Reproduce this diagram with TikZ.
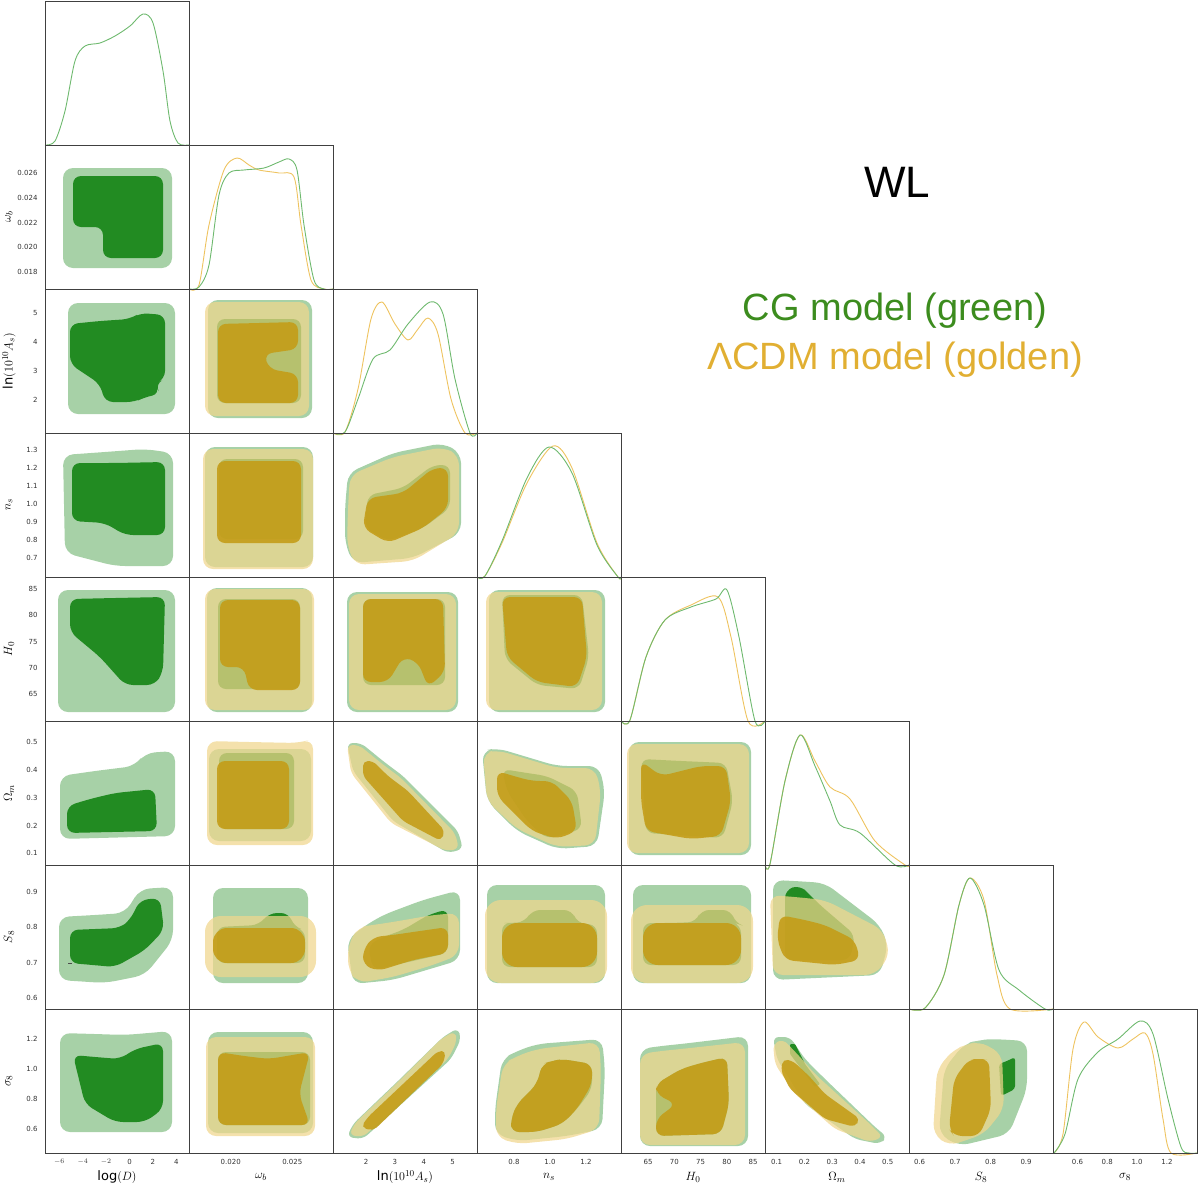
\documentclass[tikz,border=0pt]{standalone}
\usepackage{fontspec}
\setmainfont{DejaVu Sans}
\newfontfamily\titlefont{Liberation Sans}
\definecolor{cggreen}{RGB}{34,139,34}
\definecolor{cgline}{RGB}{110,185,110}
\definecolor{lcgold}{RGB}{240,214,140}
\definecolor{lcdark}{RGB}{196,156,22}
\definecolor{lcline}{RGB}{238,195,95}
\definecolor{cgtext}{RGB}{60,140,30}
\definecolor{lctext}{RGB}{225,175,50}
\tikzset{
	cell/.style 2 args={shift={({45+144*#1},{1+144*#2})}},
	cgout/.style={fill=cggreen,fill opacity=.4,rounded corners=10},
	cgin/.style={fill=cggreen,rounded corners=8},
	lcout/.style={fill=lcgold,fill opacity=.72,rounded corners=10},
	lcin/.style={fill=lcdark,fill opacity=.88,rounded corners=8},
	pdfcg/.style={draw=cgline,line width=0.9pt},
	pdflc/.style={draw=lcline,line width=0.9pt},
	frame/.style={draw=black!75,line width=0.8pt},
	tick/.style={draw=black!70,line width=0.6pt},
	ticklab/.style={font=\fontsize{7}{8}\selectfont,text=black!80},
	axlab/.style={font=\fontsize{13}{15}\selectfont}}
\def\txD{14.3,37.7,61.1,84.5,107.9,131.3}
\def\txW{41.7,72.5,103.3}
\def\txA{33,61.9,90.8,119.7}
\def\txN{37,73,109}
\def\txH{27,53.25,79.5,105.75,132}
\def\txO{11.6,39.4,67.2,95,122.8}
\def\txS{10.6,46.1,81.6,117.1}
\def\txG{24.5,54.3,84.1,113.9}
\def\tyW{17,41.7,66.3,91,115.6}
\def\tyN{19,37,55,73,91,109,127}

\begin{document}
\begin{tikzpicture}[x=1pt,y=-1pt]
	\useasboundingbox (0,0) rectangle (1200,1186);

	% diagonal: 1D posteriors
	\begin{scope}[cell={0}{0}]
		\draw[pdfcg] plot[smooth,tension=.5] coordinates {(0,144)(10,140)(20,110)(30,60)(40,45)(55,42)(70,35)(85,25)(98,13)(108,22)(118,70)(125,120)(133,142)(144,144)};
	\end{scope}
	\begin{scope}[cell={1}{1}]
		\draw[pdflc] plot[smooth,tension=.5] coordinates {(0,144)(10,140)(20,80)(35,25)(48,13)(60,20)(70,25)(90,28)(105,32)(112,80)(122,135)(135,144)(144,144)};
		\draw[pdfcg] plot[smooth,tension=.5] coordinates {(0,144)(10,142)(20,120)(30,50)(40,28)(55,25)(75,23)(90,17)(100,14)(108,25)(115,80)(125,135)(135,144)(144,144)};
	\end{scope}
	\begin{scope}[cell={2}{2}]
		\draw[pdflc] plot[smooth,tension=.5] coordinates {(0,144)(12,143)(25,100)(38,30)(49,13)(62,35)(75,51)(85,40)(95,29)(105,45)(118,110)(132,144)(144,144)};
		\draw[pdfcg] plot[smooth,tension=.5] coordinates {(0,144)(12,143)(25,110)(40,70)(57,61)(75,35)(97,13)(110,25)(122,90)(137,144)(144,144)};
	\end{scope}
	\begin{scope}[cell={3}{3}]
		\draw[pdflc] plot[smooth,tension=.5] coordinates {(0,144)(8,143)(25,110)(50,50)(76,13)(95,35)(120,110)(141,144)(144,144)};
		\draw[pdfcg] plot[smooth,tension=.5] coordinates {(0,144)(8,143)(25,108)(50,45)(72,14)(95,40)(120,112)(141,144)(144,144)};
	\end{scope}
	\begin{scope}[cell={4}{4}]
		\draw[pdflc] plot[smooth,tension=.5] coordinates {(0,144)(9,143)(25,80)(44,43)(70,28)(97,20)(110,60)(127,144)(144,144)};
		\draw[pdfcg] plot[smooth,tension=.5] coordinates {(0,144)(9,143)(25,80)(44,43)(70,30)(95,22)(106,13)(118,60)(134,144)(144,144)};
	\end{scope}
	\begin{scope}[cell={5}{5}]
		\draw[pdflc] plot[smooth,tension=.5] coordinates {(0,144)(5,143)(20,60)(35,14)(50,40)(65,66)(85,78)(110,120)(140,144)(144,144)};
		\draw[pdfcg] plot[smooth,tension=.5] coordinates {(0,144)(5,143)(20,60)(35,14)(50,45)(65,80)(75,104)(95,112)(130,144)(144,144)};
	\end{scope}
	\begin{scope}[cell={6}{6}]
		\draw[pdflc] plot[smooth,tension=.5] coordinates {(0,144)(16,143)(35,110)(50,40)(61,13)(75,35)(88,110)(101,144)(144,144)};
		\draw[pdfcg] plot[smooth,tension=.5] coordinates {(0,144)(16,143)(35,110)(50,40)(61,13)(75,40)(90,105)(110,125)(136,144)(144,144)};
	\end{scope}
	\begin{scope}[cell={7}{7}]
		\draw[pdflc] plot[smooth,tension=.5] coordinates {(1,144)(10,125)(20,40)(31,13)(45,28)(65,39)(80,30)(92,24)(100,45)(110,110)(118,144)(144,144)};
		\draw[pdfcg] plot[smooth,tension=.5] coordinates {(1,144)(12,125)(25,70)(45,43)(65,30)(87,12)(100,25)(115,90)(128,138)(136,144)(144,144)};
	\end{scope}

	% column log(D)
	\begin{scope}[cell={0}{1}]
		\fill[cgout] (18,23) rectangle (127,123);
		\fill[cgin] (70,31) -- (118,31) -- (118,113) -- (58,113) -- (58,82) -- (28,82) -- (28,31) -- cycle;
	\end{scope}
	\begin{scope}[cell={0}{2}]
		\fill[cgout] (23,14) rectangle (130,125);
		\fill[cgin] (55,32) -- (85,30) -- (95,24) -- (120,26) -- (120,90) -- (110,95) -- (115,105) -- (100,108) -- (90,113) -- (60,113) -- (55,95) -- (25,75) -- (25,35) -- cycle;
	\end{scope}
	\begin{scope}[cell={0}{3}]
		\fill[cgout] (60,19) -- (100,16) -- (128,20) -- (128,133) -- (70,133) -- (20,120) -- (18,22) -- cycle;
		\fill[cgin] (70,30) -- (120,29) -- (120,102) -- (80,102) -- (60,90) -- (27,88) -- (27,30) -- cycle;
	\end{scope}
	\begin{scope}[cell={0}{4}]
		\fill[cgout] (13,13) rectangle (130,135);
		\fill[cgin] (70,21) -- (120,20) -- (118,95) -- (110,108) -- (80,108) -- (55,80) -- (25,55) -- (25,22) -- cycle;
	\end{scope}
	\begin{scope}[cell={0}{5}]
		\fill[cgout] (50,50) -- (90,45) -- (100,32) -- (130,30) -- (130,115) -- (15,118) -- (15,55) -- cycle;
		\fill[cgin] (45,78) -- (70,72) -- (110,68) -- (112,110) -- (22,112) -- (22,85) -- cycle;
	\end{scope}
	\begin{scope}[cell={0}{6}]
		\fill[cgout] (50,50) -- (80,48) -- (95,24) -- (128,22) -- (128,75) -- (100,110) -- (60,118) -- (14,115) -- (14,52) -- cycle;
		\fill[cgin] (50,64) -- (75,63) -- (85,55) -- (95,35) -- (115,33) -- (119,65) -- (100,85) -- (70,102) -- (25,98) -- (25,65) -- cycle;
	\end{scope}
	\begin{scope}[cell={0}{7}]
		\fill[cgout] (50,25) -- (80,26) -- (127,22) -- (127,123) -- (15,123) -- (15,24) -- cycle;
		\fill[cgin] (50,48) -- (75,50) -- (90,40) -- (118,34) -- (118,100) -- (100,113) -- (70,113) -- (40,95) -- (28,46) -- cycle;
	\end{scope}

	% column omega_b
	\begin{scope}[cell={1}{2}]
		\fill[cgout] (19,11) rectangle (123,129);
		\fill[cgin] (28,30) rectangle (112,114);
		\fill[lcout] (16,13) rectangle (120,127);
		\fill[lcin] (70,34) -- (109,33) -- (109,60) -- (75,65) -- (80,80) -- (109,85) -- (109,114) -- (29,114) -- (29,35) -- cycle;
	\end{scope}
	\begin{scope}[cell={1}{3}]
		\fill[cgout] (16,14) rectangle (124,134);
		\fill[cgin] (30,26) rectangle (114,106);
		\fill[lcout] (14,16) rectangle (124,136);
		\fill[lcin] (28,28) rectangle (112,110);
	\end{scope}
	\begin{scope}[cell={1}{4}]
		\fill[cgout] (18,11) rectangle (123,135);
		\fill[cgin] (29,22) rectangle (111,112);
		\fill[lcout] (16,12) rectangle (125,133);
		\fill[lcin] (70,23) -- (111,23) -- (111,113) -- (60,113) -- (55,90) -- (31,90) -- (31,23) -- cycle;
	\end{scope}
	\begin{scope}[cell={1}{5}]
		\fill[cgout] (20,28) rectangle (122,120);
		\fill[cgin] (30,32) rectangle (105,108);
		\fill[lcout] (60,21) -- (110,22) -- (124,18) -- (124,124) -- (18,124) -- (18,20) -- cycle;
		\fill[lcin] (28,40) rectangle (100,108);
	\end{scope}
	\begin{scope}[cell={1}{6}]
		\fill[cgout] (24,23) rectangle (119,118);
		\fill[cgin] (50,61) -- (70,60) -- (80,48) -- (100,48) -- (105,62) -- (116,65) -- (116,98) -- (28,98) -- (28,62) -- cycle;
		\fill[lcout,rounded corners=16] (16,51) rectangle (127,112);
		\fill[lcin,rounded corners=14] (24,63) rectangle (116,98);
	\end{scope}
	\begin{scope}[cell={1}{7}]
		\fill[cgout] (19,23) rectangle (124,124);
		\fill[cgin] (29,43) rectangle (121,116);
		\fill[lcout] (17,28) rectangle (126,127);
		\fill[lcin] (55,47) -- (80,50) -- (121,43) -- (110,85) -- (121,116) -- (29,116) -- (29,43) -- cycle;
	\end{scope}

	% column ln(10^10 A_s)
	\begin{scope}[cell={2}{3}]
		\fill[cgout] (12,75) -- (15,40) -- (60,20) -- (110,10) -- (128,20) -- (128,100) -- (80,125) -- (20,130) -- (12,110) -- cycle;
		\fill[cgin] (33,80) -- (35,62) -- (70,55) -- (100,32) -- (117,32) -- (117,75) -- (90,95) -- (55,108) -- (32,95) -- cycle;
		\fill[lcout] (15,75) -- (17,42) -- (60,24) -- (110,14) -- (126,22) -- (126,100) -- (80,128) -- (22,132) -- (14,112) -- cycle;
		\fill[lcin] (32,80) -- (35,65) -- (70,60) -- (100,35) -- (115,35) -- (115,75) -- (90,95) -- (55,110) -- (30,95) -- cycle;
	\end{scope}
	\begin{scope}[cell={2}{4}]
		\fill[cgout] (14,15) rectangle (125,135);
		\fill[cgin] (30,22) rectangle (112,108);
		\fill[lcout] (16,17) rectangle (123,133);
		\fill[lcin] (70,22) -- (110,22) -- (112,95) -- (95,110) -- (85,85) -- (70,80) -- (55,105) -- (30,105) -- (30,22) -- cycle;
	\end{scope}
	\begin{scope}[cell={2}{5},rounded corners=6]
		\fill[cgout,rounded corners=6] (50,40) -- (70,55) -- (125,110) -- (130,128) -- (115,132) -- (60,100) -- (20,50) -- (14,22) -- (28,22) -- cycle;
		\fill[lcout,rounded corners=6] (48,42) -- (68,57) -- (122,112) -- (126,128) -- (113,130) -- (58,102) -- (18,52) -- (14,24) -- (26,24) -- cycle;
		\fill[lcin,rounded corners=5] (55,55) -- (75,70) -- (112,110) -- (108,120) -- (70,100) -- (30,55) -- (30,40) -- (40,40) -- cycle;
	\end{scope}
	\begin{scope}[cell={2}{6}]
		\fill[cgout] (30,62) -- (50,50) -- (90,35) -- (127,25) -- (127,95) -- (60,115) -- (20,119) -- (14,75) -- cycle;
		\fill[cgin] (50,72) -- (70,65) -- (95,50) -- (115,44) -- (115,88) -- (40,105) -- (35,80) -- cycle;
		\fill[lcout] (40,60) -- (60,57) -- (100,50) -- (126,48) -- (126,90) -- (100,100) -- (60,112) -- (25,118) -- (15,105) -- (15,80) -- (25,62) -- cycle;
		\fill[lcin] (60,70) -- (80,67) -- (115,62) -- (115,88) -- (80,95) -- (45,106) -- (30,100) -- (30,85) -- (40,72) -- cycle;
	\end{scope}
	\begin{scope}[cell={2}{7}]
		\fill[cgout,rounded corners=6] (65,72) -- (110,28) -- (125,19) -- (128,30) -- (118,50) -- (30,130) -- (14,128) -- (20,115) -- cycle;
		\fill[lcout,rounded corners=6] (65,73) -- (108,30) -- (122,22) -- (124,32) -- (115,50) -- (30,128) -- (16,126) -- (22,114) -- cycle;
		\fill[lcin,rounded corners=5] (70,75) -- (105,42) -- (113,42) -- (110,55) -- (40,122) -- (28,118) -- (35,108) -- cycle;
	\end{scope}

	% column n_s
	\begin{scope}[cell={3}{4}]
		\fill[cgout] (12,13) rectangle (128,135);
		\fill[cgin] (65,18) -- (105,18) -- (112,80) -- (102,112) -- (60,108) -- (28,82) -- (25,18) -- cycle;
		\fill[lcout] (9,15) rectangle (125,133);
		\fill[lcin] (65,20) -- (105,20) -- (110,80) -- (100,110) -- (60,105) -- (30,80) -- (25,20) -- cycle;
	\end{scope}
	\begin{scope}[cell={3}{5}]
		\fill[cgout] (50,36) -- (80,45) -- (122,45) -- (128,70) -- (120,125) -- (80,128) -- (40,110) -- (10,80) -- (5,30) -- (20,27) -- cycle;
		\fill[cgin] (50,52) -- (70,55) -- (100,70) -- (105,108) -- (70,118) -- (50,100) -- (30,70) -- (25,48) -- cycle;
		\fill[lcout] (50,38) -- (80,47) -- (118,47) -- (124,70) -- (118,124) -- (80,126) -- (40,108) -- (10,80) -- (6,32) -- (20,29) -- cycle;
		\fill[lcin] (40,56) -- (55,60) -- (75,60) -- (95,80) -- (100,110) -- (80,118) -- (55,110) -- (20,75) -- (20,50) -- cycle;
	\end{scope}
	\begin{scope}[cell={3}{6}]
		\fill[cgout] (10,20) rectangle (128,118);
		\fill[cgin] (35,58) -- (48,57) -- (55,45) -- (95,45) -- (100,58) -- (120,60) -- (120,102) -- (25,102) -- (25,58) -- cycle;
		\fill[lcout,rounded corners=16] (8,35) rectangle (130,118);
		\fill[lcin,rounded corners=15] (25,58) rectangle (120,102);
	\end{scope}
	\begin{scope}[cell={3}{7}]
		\fill[cgout] (40,42) -- (60,35) -- (125,30) -- (128,60) -- (125,120) -- (90,127) -- (40,132) -- (18,125) -- (18,100) -- (25,50) -- cycle;
		\fill[cgin] (75,52) -- (85,50) -- (115,55) -- (115,80) -- (100,100) -- (85,115) -- (60,123) -- (34,123) -- (34,110) -- (40,95) -- (60,75) -- (65,55) -- cycle;
		\fill[lcout] (40,47) -- (60,40) -- (122,33) -- (124,60) -- (122,120) -- (90,130) -- (40,135) -- (19,128) -- (19,100) -- (26,55) -- cycle;
		\fill[lcin] (75,52) -- (85,50) -- (115,55) -- (115,75) -- (100,100) -- (85,115) -- (60,123) -- (34,123) -- (34,110) -- (40,95) -- (60,75) -- (65,55) -- cycle;
	\end{scope}

	% column H_0
	\begin{scope}[cell={4}{5}]
		\fill[cgout] (8,21) rectangle (130,134);
		\fill[cgin] (60,40) -- (105,42) -- (112,80) -- (102,117) -- (25,112) -- (20,38) -- cycle;
		\fill[lcout] (6,23) rectangle (128,132);
		\fill[lcin] (60,50) -- (80,45) -- (105,45) -- (110,80) -- (100,115) -- (70,118) -- (25,110) -- (20,80) -- (20,40) -- (40,55) -- cycle;
	\end{scope}
	\begin{scope}[cell={4}{6}]
		\fill[cgout] (12,20) rectangle (130,118);
		\fill[cgin] (50,58) -- (75,57) -- (80,45) -- (110,45) -- (114,58) -- (120,60) -- (120,100) -- (22,100) -- (22,58) -- cycle;
		\fill[lcout,rounded corners=16] (10,40) rectangle (132,118);
		\fill[lcin,rounded corners=15] (22,58) rectangle (120,100);
	\end{scope}
	\begin{scope}[cell={4}{7}]
		\fill[cgout] (40,37) -- (60,35) -- (127,27) -- (127,137) -- (19,137) -- (19,40) -- cycle;
		\fill[cgin] (80,54) -- (106,48) -- (108,95) -- (100,125) -- (35,127) -- (35,75) -- (60,60) -- cycle;
		\fill[lcout] (40,42) -- (60,40) -- (124,33) -- (124,136) -- (19,136) -- (19,45) -- cycle;
		\fill[lcin] (80,54) -- (106,48) -- (108,95) -- (100,125) -- (35,127) -- (35,110) -- (55,95) -- (35,85) -- (35,75) -- (60,60) -- cycle;
	\end{scope}

	% column Omega_m
	\begin{scope}[cell={5}{6}]
		\fill[cgout] (30,16) -- (60,18) -- (115,60) -- (123,80) -- (115,110) -- (8,115) -- (8,15) -- cycle;
		\fill[cgin] (45,30) -- (55,40) -- (90,70) -- (85,95) -- (20,95) -- (20,25) -- (35,20) -- cycle;
		\fill[lcout] (30,32) -- (60,35) -- (118,65) -- (125,90) -- (110,110) -- (8,110) -- (5,30) -- cycle;
		\fill[lcin] (40,55) -- (60,60) -- (90,75) -- (95,95) -- (70,100) -- (20,95) -- (12,75) -- (15,50) -- cycle;
	\end{scope}
	\begin{scope}[cell={5}{7}]
		\fill[cgout,rounded corners=6] (40,50) -- (60,70) -- (110,118) -- (122,128) -- (115,135) -- (90,130) -- (40,95) -- (12,50) -- (8,28) -- (25,28) -- cycle;
		\fill[cgin,rounded corners=1] (40,55) -- (55,75) -- (50,78) -- (25,45) -- (25,35) -- (30,35) -- cycle;
		\fill[lcout,rounded corners=6] (35,48) -- (50,65) -- (105,115) -- (118,128) -- (105,133) -- (70,120) -- (30,85) -- (10,55) -- (8,35) -- (18,30) -- cycle;
		\fill[lcin,rounded corners=5] (45,68) -- (60,85) -- (95,110) -- (90,118) -- (60,110) -- (25,80) -- (16,62) -- (18,50) -- (28,52) -- cycle;
	\end{scope}

	% column S_8
	\begin{scope}[cell={6}{7}]
		\fill[cgout] (70,31) -- (85,30) -- (118,32) -- (118,80) -- (100,125) -- (50,137) -- (30,125) -- (35,60) -- (55,35) -- cycle;
		\fill[cgin,rounded corners=3] (98,52) -- (106,48) -- (106,80) -- (92,87) -- (90,55) -- cycle;
		\fill[lcout] (60,35) -- (70,32) -- (93,45) -- (95,100) -- (75,125) -- (40,137) -- (24,125) -- (28,60) -- (45,40) -- cycle;
		\fill[lcin] (70,50) -- (80,50) -- (82,100) -- (70,127) -- (45,127) -- (40,120) -- (45,70) -- (60,50) -- cycle;
	\end{scope}

	% frames
	\foreach \r in {0,...,7}
		\foreach \c in {0,...,\r}
			\draw[frame,cell={\c}{\r}] (0,0) rectangle (144,144);

	% x ticks
	\foreach \c/\lst in {0/\txD,1/\txW,2/\txA,3/\txN,4/\txH,5/\txO,6/\txS,7/\txG}
		\foreach \r in {\c,...,7}
			\foreach \u in \lst {
				\draw[tick,cell={\c}{\r}] (\u,144) -- (\u,140);
				\draw[tick,cell={\c}{\r}] (\u,0) -- (\u,4);
			}
	% y ticks
	\foreach \r/\lst in {1/\tyW,2/\txA,3/\tyN,4/\txH,5/\txO,6/\txS,7/\txG}
		\foreach \c in {0,...,7} {
			\ifnum\c<\r
				\foreach \u in \lst {
					\draw[tick,cell={\c}{\r}] (0,144-\u) -- (4,144-\u);
					\draw[tick,cell={\c}{\r}] (144,144-\u) -- (140,144-\u);
				}
			\fi
		}

	% x tick labels
	\foreach \c/\pairs in {0/{14.3/$-6$,37.7/$-4$,61.1/$-2$,84.5/0,107.9/2,131.3/4},
			1/{41.7/0.020,103.3/0.025},
			2/{33/2,61.9/3,90.8/4,119.7/5},
			3/{37/0.8,73/1.0,109/1.2},
			4/{27/65,53.25/70,79.5/75,105.75/80,132/85},
			5/{11.6/0.1,39.4/0.2,67.2/0.3,95/0.4,122.8/0.5},
			6/{10.6/0.6,46.1/0.7,81.6/0.8,117.1/0.9},
			7/{24.5/0.6,54.3/0.8,84.1/1.0,113.9/1.2}}
		\foreach \u/\t in \pairs
			\node[ticklab,cell={\c}{7}] (xl-\c-\u) at (\u,153) {\t};
	% y tick labels
	\foreach \r/\pairs in {1/{17/0.018,41.7/0.020,66.3/0.022,91/0.024,115.6/0.026},
			2/{33/2,61.9/3,90.8/4,119.7/5},
			3/{19/0.7,37/0.8,55/0.9,73/1.0,91/1.1,109/1.2,127/1.3},
			4/{27/65,53.25/70,79.5/75,105.75/80,132/85},
			5/{11.6/0.1,39.4/0.2,67.2/0.3,95/0.4,122.8/0.5},
			6/{10.6/0.6,46.1/0.7,81.6/0.8,117.1/0.9},
			7/{24.5/0.6,54.3/0.8,84.1/1.0,113.9/1.2}}
		\foreach \u/\t in \pairs
			\node[ticklab,anchor=east,cell={0}{\r}] (yl-\r-\u) at (-4,144-\u) {\t};

	% axis labels
	\foreach \c/\t in {0/{log$(D)$},1/{$\omega_b$},2/{ln$(10^{10}A_s)$},3/{$n_s$},4/{$H_0$},5/{$\Omega_m$},6/{$S_8$},7/{$\sigma_8$}}
		\node[axlab,cell={\c}{7}] (xa-\c) at (72,168) {\t};
	\foreach \r/\t in {1/{$\omega_b$},2/{ln$(10^{10}A_s)$},3/{$n_s$},4/{$H_0$},5/{$\Omega_m$},6/{$S_8$},7/{$\sigma_8$}}
		\node[axlab,rotate=90] (ya-\r) at (9,{73+144*\r}) {\t};

	% titles
	\node[font=\titlefont\fontsize{44}{48}\selectfont] (wl) at (897,182) {WL};
	\node[font=\titlefont\fontsize{38}{40}\selectfont,text=cgtext] (cg) at (895,311) {CG model (green)};
	\node[font=\titlefont\fontsize{38}{40}\selectfont,text=lctext] (lcdm) at (895,360) {ΛCDM model (golden)};
\end{tikzpicture}
\end{document}
